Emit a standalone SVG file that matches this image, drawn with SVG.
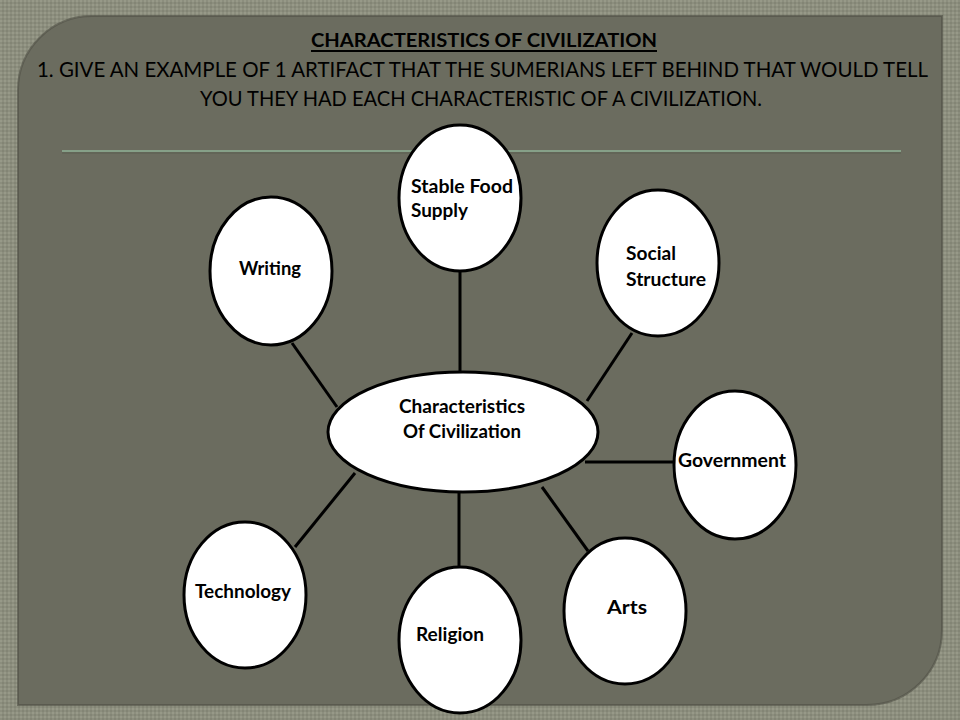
<svg xmlns="http://www.w3.org/2000/svg" width="960" height="720" viewBox="0 0 960 720">
<defs>
<pattern id="tex" width="4" height="4" patternUnits="userSpaceOnUse">
<rect width="4" height="4" fill="#8c8e7e"/>
<rect width="2" height="2" fill="#979988"/>
<rect x="2" y="2" width="2" height="2" fill="#838575"/>
</pattern>
<linearGradient id="shadeL" x1="0" x2="1" y1="0" y2="0">
<stop offset="0" stop-color="#000" stop-opacity="0.25"/>
<stop offset="1" stop-color="#000" stop-opacity="0"/>
</linearGradient>
</defs>
<style>
.node ellipse{fill:#ffffff;stroke:#000000;stroke-width:3}
.node text{font-family:Lato,"Open Sans","Liberation Sans",sans-serif;font-weight:bold;font-size:18px;fill:#000000}
#connectors line{stroke:#000000;stroke-width:3}
.hdr{font-family:Lato,"Open Sans","Liberation Sans",sans-serif;fill:#000000;text-anchor:middle}
</style>
<rect x="0" y="0" width="960" height="720" fill="url(#tex)"/>
<path d="M18,705 L18,90 A74,74 0 0 1 92,16 L942,16 L942,630 A75,75 0 0 1 867,705 Z" fill="#6b6c5f"/>
<path d="M18,705 L18,90 A74,74 0 0 1 92,16 L942,16 L942,630 A75,75 0 0 1 867,705 Z" fill="none" stroke="#4e4f45" stroke-width="2" opacity="0.6"/>
<line x1="62" y1="151" x2="901" y2="151" stroke="#86a088" stroke-width="2"/>
<line x1="62" y1="153" x2="901" y2="153" stroke="#555a4c" stroke-width="1" opacity="0.7"/>
<g id="title">
<text class="hdr" x="484" y="47" font-size="19" font-weight="bold" textLength="346" lengthAdjust="spacingAndGlyphs">CHARACTERISTICS OF CIVILIZATION</text>
<line x1="311" y1="51" x2="657" y2="51" stroke="#000" stroke-width="2"/>
<text class="hdr" x="482.5" y="77" font-size="21" textLength="891" lengthAdjust="spacingAndGlyphs">1. GIVE AN EXAMPLE OF 1 ARTIFACT THAT THE SUMERIANS LEFT BEHIND THAT WOULD TELL</text>
<text class="hdr" x="481" y="106" font-size="21" textLength="562" lengthAdjust="spacingAndGlyphs">YOU THEY HAD EACH CHARACTERISTIC OF A CIVILIZATION.</text>
</g>
<g id="connectors">
<line x1="460" y1="272" x2="460" y2="373"/>
<line x1="292" y1="343" x2="337" y2="407"/>
<line x1="632" y1="333" x2="587" y2="401"/>
<line x1="585" y1="462" x2="674" y2="462"/>
<line x1="542" y1="487" x2="588" y2="551"/>
<line x1="459" y1="491" x2="459" y2="568"/>
<line x1="295" y1="547" x2="355" y2="473"/>
</g>
<g id="node-center" class="node">
<ellipse cx="463" cy="432" rx="135" ry="60"/>
<text x="399" y="413" textLength="126" lengthAdjust="spacingAndGlyphs">Characteristics</text>
<text x="403" y="438" textLength="118" lengthAdjust="spacingAndGlyphs">Of Civilization</text>
</g>
<g id="node-food" class="node">
<ellipse cx="460" cy="198" rx="61" ry="73"/>
<text x="411" y="193" textLength="102" lengthAdjust="spacingAndGlyphs">Stable Food</text>
<text x="411" y="217" textLength="57" lengthAdjust="spacingAndGlyphs">Supply</text>
</g>
<g id="node-writing" class="node">
<ellipse cx="271" cy="271" rx="61" ry="74"/>
<text x="239" y="275" textLength="62" lengthAdjust="spacingAndGlyphs">Writing</text>
</g>
<g id="node-social" class="node">
<ellipse cx="658" cy="263" rx="61" ry="73"/>
<text x="626" y="260" textLength="50" lengthAdjust="spacingAndGlyphs">Social</text>
<text x="626" y="286" textLength="80" lengthAdjust="spacingAndGlyphs">Structure</text>
</g>
<g id="node-government" class="node">
<ellipse cx="735" cy="465" rx="61" ry="74"/>
<text x="678" y="467" textLength="108" lengthAdjust="spacingAndGlyphs">Government</text>
</g>
<g id="node-technology" class="node">
<ellipse cx="245" cy="595" rx="61" ry="73"/>
<text x="195" y="598" textLength="96" lengthAdjust="spacingAndGlyphs">Technology</text>
</g>
<g id="node-religion" class="node">
<ellipse cx="460" cy="640" rx="61" ry="73"/>
<text x="416" y="641" textLength="68" lengthAdjust="spacingAndGlyphs">Religion</text>
</g>
<g id="node-arts" class="node">
<ellipse cx="625" cy="611" rx="61" ry="73"/>
<text x="607" y="614" font-size="20" textLength="40" lengthAdjust="spacingAndGlyphs">Arts</text>
</g>
</svg>
